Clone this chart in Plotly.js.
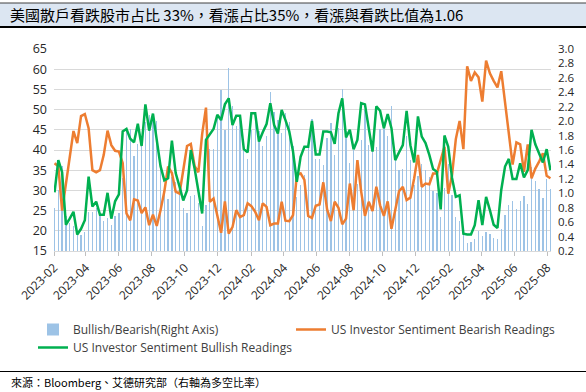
<!DOCTYPE html>
<html>
<head>
<meta charset="utf-8">
<script src="https://cdn.plot.ly/plotly-3.0.1.min.js"></script>
<style>
  html, body { margin: 0; padding: 0; background: #ffffff; }
  #chart { width: 586px; height: 392px; }
</style>
</head>
<body>
<div id="chart"></div>
<script>
// Weekly survey dates (Thursdays)
const dates = [
  '2023-02-02','2023-02-09','2023-02-16','2023-02-23','2023-03-02','2023-03-09','2023-03-16','2023-03-23','2023-03-30',
  '2023-04-06','2023-04-13','2023-04-20','2023-04-27','2023-05-04','2023-05-11','2023-05-18','2023-05-25',
  '2023-06-01','2023-06-08','2023-06-15','2023-06-22','2023-06-29','2023-07-06','2023-07-13','2023-07-20','2023-07-27',
  '2023-08-03','2023-08-10','2023-08-17','2023-08-24','2023-08-31','2023-09-07','2023-09-14','2023-09-21','2023-09-28',
  '2023-10-05','2023-10-12','2023-10-19','2023-10-26','2023-11-02','2023-11-09','2023-11-16','2023-11-23','2023-11-30',
  '2023-12-07','2023-12-14','2023-12-21','2023-12-28',
  '2024-01-04','2024-01-11','2024-01-18','2024-01-25','2024-02-01','2024-02-08','2024-02-15','2024-02-22','2024-02-29',
  '2024-03-07','2024-03-14','2024-03-21','2024-03-28','2024-04-04','2024-04-11','2024-04-18','2024-04-25',
  '2024-05-02','2024-05-09','2024-05-16','2024-05-23','2024-05-30','2024-06-06','2024-06-13','2024-06-20','2024-06-27',
  '2024-07-04','2024-07-11','2024-07-18','2024-07-25','2024-08-01','2024-08-08','2024-08-15','2024-08-22','2024-08-29',
  '2024-09-05','2024-09-12','2024-09-19','2024-09-26','2024-10-03','2024-10-10','2024-10-17','2024-10-24','2024-10-31',
  '2024-11-07','2024-11-14','2024-11-21','2024-11-28','2024-12-05','2024-12-12','2024-12-19','2024-12-26',
  '2025-01-02','2025-01-09','2025-01-16','2025-01-23','2025-01-30','2025-02-06','2025-02-13','2025-02-20','2025-02-27',
  '2025-03-06','2025-03-13','2025-03-20','2025-03-27','2025-04-03','2025-04-10','2025-04-17','2025-04-24',
  '2025-05-01','2025-05-08','2025-05-15','2025-05-22','2025-05-29','2025-06-05','2025-06-12','2025-06-19','2025-06-26',
  '2025-07-03','2025-07-10','2025-07-17','2025-07-24','2025-07-31','2025-08-07'
];

// US Investor Sentiment Bearish Readings (%)
const bearish = [
  36.7,36.0,25.0,31.5,38.8,44.7,41.7,48.4,48.9,45.4,35.0,34.5,35.0,38.8,44.8,41.2,39.8,39.6,36.8,24.3,
  22.6,27.8,27.5,24.4,25.8,21.4,24.0,21.2,25.1,29.7,35.9,34.3,29.7,29.2,35.0,41.0,41.5,36.0,34.5,44.0,
  50.5,27.2,28.0,23.4,19.5,27.3,19.3,20.9,25.1,23.4,23.9,26.8,26.1,24.7,22.6,26.8,25.9,21.4,21.8,21.8,
  27.2,22.5,22.4,23.9,33.8,34.2,32.6,23.7,23.2,26.2,26.5,32.0,25.3,22.4,27.2,25.7,21.6,23.0,31.7,25.1,
  37.5,29.7,23.7,27.2,24.9,30.9,26.3,23.7,27.3,20.5,24.9,29.8,30.9,27.6,28.2,33.0,38.8,30.9,31.7,31.5,
  34.2,34.2,37.5,40.8,29.2,33.8,42.7,47.2,40.2,60.7,57.1,59.2,58.0,52.0,62.1,59.0,57.1,55.5,59.5,51.6,
  45.0,36.4,41.9,41.4,34.6,41.4,33.0,35.4,37.1,39.2,33.6,33.0
];

// US Investor Sentiment Bullish Readings (%)
const bullish = [
  29.5,37.5,34.5,21.5,23.0,24.7,19.1,20.5,22.6,33.4,26.0,27.2,24.0,24.0,29.4,23.0,27.3,29.0,44.6,45.2,
  42.8,41.9,46.5,41.0,51.3,44.8,49.0,42.5,36.0,32.5,33.0,42.3,34.3,31.0,27.5,30.0,40.0,35.4,29.5,24.3,
  42.5,43.7,45.2,48.7,47.4,51.3,52.8,46.2,48.5,48.5,40.2,39.4,49.1,49.1,42.1,44.4,46.4,51.6,46.2,44.1,
  49.9,47.4,44.6,39.6,32.1,38.3,40.8,40.8,47.2,38.9,38.9,44.6,44.6,44.4,41.5,49.1,52.8,43.1,45.0,40.2,
  42.5,51.6,51.3,45.4,39.6,50.8,49.7,45.4,48.9,45.4,37.5,39.4,41.2,49.7,41.2,36.9,48.3,43.3,41.7,38.8,
  35.3,34.6,25.3,43.6,40.8,33.1,28.4,28.8,19.3,19.1,19.1,21.4,27.6,21.4,28.4,25.1,21.5,20.7,30.1,35.9,
  37.8,32.8,32.8,36.7,33.2,35.0,45.0,41.4,39.2,36.9,40.2,35.0
];

// Bullish/Bearish ratio (right axis)
const ratio = [
  0.80,1.04,1.38,0.68,0.59,0.55,0.46,0.42,0.46,0.74,0.74,0.79,0.69,0.62,0.66,0.56,0.69,0.73,1.21,1.86,
  1.89,1.51,1.69,1.68,1.99,2.09,2.04,2.00,1.43,1.09,0.92,1.23,1.15,1.06,0.79,0.73,0.96,0.98,0.86,0.55,
  0.84,1.61,1.61,2.08,2.43,1.88,2.74,2.21,1.93,2.07,1.68,1.47,1.88,1.99,1.86,1.66,1.79,2.41,2.12,2.02,
  1.83,2.11,1.99,1.66,0.95,1.12,1.25,1.72,2.03,1.48,1.47,1.39,1.76,1.98,1.53,1.91,2.44,1.87,1.42,1.60,
  1.13,1.74,2.16,1.67,1.59,1.64,1.89,1.92,1.79,2.21,1.51,1.32,1.33,1.80,1.46,1.12,1.24,1.40,1.32,1.23,
  1.03,1.01,0.67,1.07,1.40,0.98,0.67,0.61,0.48,0.31,0.33,0.36,0.48,0.41,0.46,0.43,0.38,0.37,0.51,0.70,
  0.84,0.90,0.78,0.89,0.96,0.85,1.36,1.17,1.06,0.94,1.20,1.06
];

const seriesNames = ['Bullish/Bearish(Right Axis)', 'US Investor Sentiment Bearish Readings', 'US Investor Sentiment Bullish Readings'];
const titleText = '美國散戶看跌股市占比 33%，看漲占比35%，看漲與看跌比值為1.06';
const sourceText = '來源：Bloomberg、艾德研究部（右軸為多空比率）';

const W = 586, H = 392;
const L = 54, R = 35, T = 49, B = 141;
const plotW = W - L - R, plotH = H - T - B;
const px = (x) => (x - L) / plotW;          // container px -> paper x
const py = (y) => (H - B - y) / plotH;      // container px -> paper y

const DAY = 86400000;
const txtFont = 'Open Sans, Noto Sans, sans-serif';
const cjkFont = 'Noto Sans CJK TC, Noto Sans CJK SC, sans-serif';

const traces = [
  {
    type: 'bar', name: seriesNames[0], x: dates, y: ratio, yaxis: 'y',
    width: 2.4 * DAY,
    marker: { color: '#9DC3E6', line: { width: 0 } },
    legend: 'legend', hoverinfo: 'skip'
  },
  {
    type: 'scatter', mode: 'lines', name: seriesNames[1], x: dates, y: bearish, yaxis: 'y2',
    line: { color: '#ED7D31', width: 2.5 },
    legend: 'legend2'
  },
  {
    type: 'scatter', mode: 'lines', name: seriesNames[2], x: dates, y: bullish, yaxis: 'y2',
    line: { color: '#00B050', width: 2.5 },
    legend: 'legend3'
  }
];

const legendBase = {
  orientation: 'h',
  xref: 'container', yref: 'container',
  xanchor: 'left', yanchor: 'top',
  y: 1 - 315 / H,
  entrywidth: 258, entrywidthmode: 'pixels',
  itemwidth: 30,
  tracegroupgap: 0,
  traceorder: 'normal',
  font: { family: txtFont, size: 12, color: '#404040' },
  bgcolor: 'rgba(0,0,0,0)', borderwidth: 0
};

const layout = {
  width: W, height: H,
  margin: { l: L, r: R, t: T, b: B, pad: 0, autoexpand: false },
  paper_bgcolor: '#ffffff', plot_bgcolor: 'rgba(0,0,0,0)',
  showlegend: true,
  bargap: 0,
  title: {
    text: titleText,
    font: { family: cjkFont, size: 15, color: '#000000' },
    x: 10 / W, xref: 'container', xanchor: 'left',
    y: 1 - 15.5 / H, yref: 'container', yanchor: 'middle'
  },
  xaxis: {
    type: 'date',
    range: ['2023-02-01', '2025-08-08'],
    tick0: '2023-02-01', dtick: 'M2', tickformat: '%Y-%m',
    tickangle: -45,
    ticks: 'outside', ticklen: 4, tickcolor: '#BFBFBF', tickwidth: 1,
    showline: true, linecolor: '#D9D9D9', linewidth: 1,
    showgrid: false, zeroline: false,
    tickfont: { family: txtFont, size: 12, color: '#262626' }
  },
  yaxis: {
    side: 'right',
    range: [0.2, 3.0], dtick: 0.2, tick0: 0.2, tickformat: '.1f',
    showgrid: false, zeroline: false, showline: false,
    ticks: '', ticklabelstandoff: 6,
    tickfont: { family: txtFont, size: 11.5, color: '#262626' }
  },
  yaxis2: {
    overlaying: 'y', side: 'left',
    range: [15, 65], dtick: 5, tick0: 15,
    showgrid: true, gridcolor: '#D9D9D9', gridwidth: 1,
    zeroline: false, showline: false,
    ticks: '', ticklabelstandoff: 6,
    tickfont: { family: txtFont, size: 12.5, color: '#262626' }
  },
  legend: Object.assign({}, legendBase, { x: 33 / W }),
  legend2: Object.assign({}, legendBase, { x: 291 / W }),
  legend3: Object.assign({}, legendBase, { x: 33 / W, y: 1 - 333 / H }),
  shapes: [
    { type: 'rect', xref: 'paper', yref: 'paper', x0: px(0), x1: px(W), y0: py(27), y1: py(3),
      fillcolor: '#DCE6F2', line: { width: 0 }, layer: 'below' },
    { type: 'line', xref: 'paper', yref: 'paper', x0: px(0), x1: px(W), y0: py(3), y1: py(3),
      line: { color: '#404040', width: 1 } },
    { type: 'line', xref: 'paper', yref: 'paper', x0: px(0), x1: px(W), y0: py(27), y1: py(27),
      line: { color: '#000000', width: 2 } },
    { type: 'line', xref: 'paper', yref: 'paper', x0: px(0), x1: px(W), y0: py(371.5), y1: py(371.5),
      line: { color: '#000000', width: 1 } }
  ],
  annotations: [
    { text: sourceText, xref: 'paper', yref: 'paper', x: px(9), y: py(382), xanchor: 'left', yanchor: 'middle',
      showarrow: false, font: { family: cjkFont, size: 11, color: '#000000' } }
  ]
};

Plotly.newPlot('chart', traces, layout, { displayModeBar: false, staticPlot: true });
</script>
</body>
</html>
